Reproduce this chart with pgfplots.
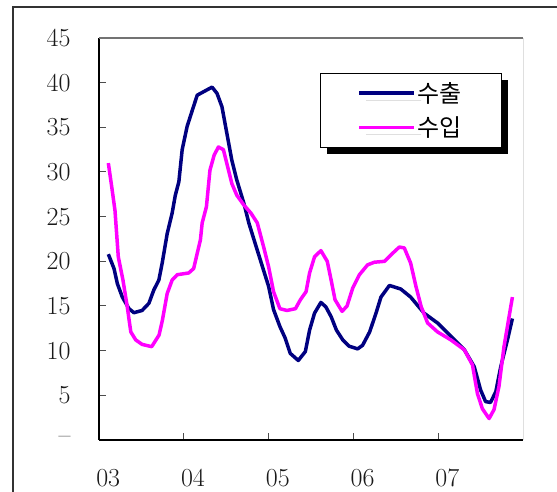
\documentclass[border=0pt]{standalone}
\usepackage{pgfplots}
\pgfplotsset{compat=1.18}
\usepackage{fontspec}
\usetikzlibrary{shadows}
\newfontfamily\kr{Noto Sans CJK KR}
\definecolor{expc}{HTML}{000080}
\definecolor{impc}{HTML}{FF00FF}
\begin{document}
\begin{tikzpicture}[x=1pt,y=1pt]
\useasboundingbox (0,0) rectangle (557,492);
\draw[line width=1.3pt, color=black!80] (13,-5) -- (13,485) -- (562,485);
\begin{axis}[at={(99pt,52pt)}, anchor=south west, scale only axis,
  width=424pt, height=402pt,
  xmin=0, xmax=60, ymin=0, ymax=45,
  axis x line*=bottom, axis y line*=left,
  axis line style={-, line width=1.5pt, black},
  xtick={12,24,36,48}, xticklabels={},
  extra x ticks={1.3,13.3,25.3,37.3,49.3},
  extra x tick labels={03,04,05,06,07},
  extra x tick style={major tick length=0pt, xticklabel style={anchor=center, yshift=-38pt}},
  ytick={0,5,...,45},
  yticklabels={\textendash,5,10,15,20,25,30,35,40,45},
  yticklabel style={anchor=east, xshift=-25pt},
  tick align=inside, major tick length=7pt,
  tick style={black!70, line width=1pt},
  ticklabel style={font=\fontsize{26}{30}\selectfont, text=black!90},
  legend style={at={(rel axis cs:0.521,0.913)}, anchor=north west,
    draw=black, line width=0.8pt, fill=white,
    inner xsep=37pt, inner ysep=7pt, row sep=9pt,
    font=\kr\fontsize{24}{28}\selectfont,
    drop shadow={fill=black, draw=none, shadow xshift=7pt, shadow yshift=-7pt, opacity=1}},
  legend cell align=left,
  legend image code/.code={\draw[#1] (0pt,0pt) -- (55pt,0pt);},
]
\addplot[expc, line width=3.5pt, line join=round] coordinates {
(1.32,20.8)(2.12,19.2)(2.6,17.5)(3.3,16.0)(4.24,14.7)(4.94,14.25)(6.1,14.5)(7.06,15.3)(7.76,16.8)(8.47,17.9)(8.94,19.8)(9.65,23.1)(10.35,25.4)(10.8,27.4)(11.3,28.9)(11.77,32.5)(12.47,35.1)(13.2,36.9)(13.9,38.6)(16.0,39.5)(16.7,38.8)(17.4,37.3)(18.1,34.3)(18.8,31.3)(19.5,29.1)(20.5,26.5)(21.2,24.3)(22.1,22.0)(23.05,19.6)(24.0,17.2)(24.7,14.6)(25.6,12.7)(26.35,11.4)(27.06,9.7)(28.2,8.9)(29.2,9.9)(29.8,12.3)(30.5,14.2)(31.4,15.4)(32.1,14.9)(32.85,13.8)(33.6,12.3)(34.5,11.2)(35.4,10.5)(36.6,10.2)(37.3,10.6)(38.3,12.1)(39.2,14.2)(39.9,16.0)(41.1,17.3)(42.7,16.9)(44.1,16.0)(46.0,14.2)(47.9,13.1)(49.8,11.6)(51.7,10.1)(53.1,8.2)(54.0,5.6)(54.7,4.3)(55.4,4.2)(56.15,5.4)(56.85,8.2)(57.8,11.2)(58.5,13.6)
};
\addlegendentry{수출}
\addplot[impc, line width=3.5pt, line join=round] coordinates {
(1.32,31.0)(1.79,28.4)(2.26,25.7)(2.73,20.5)(3.39,17.9)(4.0,14.9)(4.5,12.1)(5.2,11.2)(6.1,10.7)(7.46,10.45)(8.5,11.75)(8.97,13.4)(9.65,16.4)(10.35,17.9)(11.07,18.5)(12.7,18.7)(13.4,19.2)(13.9,20.9)(14.35,22.4)(14.6,24.3)(15.2,26.1)(15.7,30.2)(16.3,31.9)(16.9,32.8)(17.6,32.5)(18.2,30.6)(18.8,28.7)(19.5,27.4)(20.5,26.3)(21.5,25.4)(22.4,24.3)(23.3,21.6)(24.0,19.4)(24.7,16.6)(25.6,14.7)(26.6,14.5)(27.8,14.7)(28.5,15.7)(29.3,16.6)(29.8,18.7)(30.5,20.5)(31.4,21.2)(32.3,20.0)(32.85,17.9)(33.4,15.7)(34.4,14.4)(35.1,15.0)(35.9,17.0)(36.85,18.5)(38.0,19.6)(38.96,19.9)(40.4,20.0)(41.55,20.9)(42.5,21.6)(43.2,21.5)(44.1,19.8)(44.85,17.2)(45.6,14.9)(46.5,13.1)(47.9,12.1)(49.8,11.2)(51.7,10.1)(52.85,8.4)(53.55,5.2)(54.25,3.5)(55.2,2.4)(55.9,3.4)(56.6,6.0)(57.3,10.4)(58.5,16.0)
};
\addlegendentry{수입}
\draw[black!55, line width=1.2pt] (rel axis cs:0,1) -- (rel axis cs:1,1);
\draw[black, line width=1pt] (rel axis cs:1,1) -- (rel axis cs:1,0);
\end{axis}
\end{tikzpicture}
\end{document}
